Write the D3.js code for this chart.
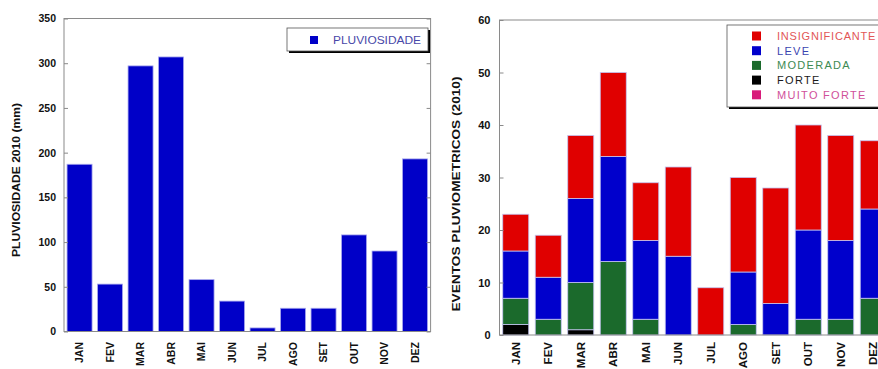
<!DOCTYPE html>
<html>
<head>
<meta charset="utf-8">
<script src="https://cdn.jsdelivr.net/npm/d3@7"></script>
<style>
  html, body { margin: 0; padding: 0; background: #fff; }
  svg { display: block; font-family: "Liberation Sans", Arial, sans-serif; }
</style>
</head>
<body>
<svg id="chart" width="878" height="369"></svg>
<script>
// Months of 2010
const months = ["JAN", "FEV", "MAR", "ABR", "MAI", "JUN", "JUL", "AGO", "SET", "OUT", "NOV", "DEZ"];

// Monthly rainfall total (mm)
const pluviosidade = [187, 53, 297, 307, 58, 34, 4, 26, 26, 108, 90, 193];

// Number of rain events per intensity class
const forte          = [2, 0, 1, 0, 0, 0, 0, 0, 0, 0, 0, 0];
const moderada       = [5, 3, 9, 14, 3, 0, 0, 2, 0, 3, 3, 7];
const leve           = [9, 8, 16, 20, 15, 15, 0, 10, 6, 17, 15, 17];
const insignificante = [7, 8, 12, 16, 11, 17, 9, 18, 22, 20, 20, 13];
const muitoForte     = [0, 0, 0, 0, 0, 0, 0, 0, 0, 0, 0, 0];

// Axis ticks
const rainTicks = [0, 50, 100, 150, 200, 250, 300, 350];
const eventTicks = [0, 10, 20, 30, 40, 50, 60];

const svg = d3.select("#chart");
const frameColor = "#8a8a8a";

function frame(g, x0, x1, y0, y1) {
  g.append("rect")
    .attr("x", x0).attr("y", y1)
    .attr("width", x1 - x0).attr("height", y0 - y1)
    .attr("fill", "none").attr("stroke", frameColor).attr("stroke-width", 1);
}

function styleAxis(sel, fontSize) {
  sel.select(".domain").remove();
  sel.selectAll(".tick line").attr("stroke", frameColor);
  sel.selectAll(".tick text")
    .attr("fill", "#111")
    .style("font-size", fontSize + "px")
    .style("font-weight", "bold");
}

function monthLabels(g, x, yTop, fontSize) {
  g.selectAll("text.month")
    .data(months)
    .join("text")
    .attr("class", "month")
    .attr("transform", d => `translate(${x(d) + x.bandwidth() / 2},${yTop}) rotate(-90)`)
    .attr("text-anchor", "end")
    .attr("dy", "0.35em")
    .attr("fill", "#111")
    .style("font-size", fontSize + "px")
    .style("font-weight", "bold")
    .text(d => d);
}

// ---------- Left: monthly rainfall ----------
{
  const g = svg.append("g");
  const x = d3.scaleBand().domain(months).range([64, 430.6]).paddingInner(0.18).paddingOuter(0.1);
  const y = d3.scaleLinear().domain([0, 350]).range([331.5, 18.5]);

  g.selectAll("rect.bar")
    .data(pluviosidade)
    .join("rect")
    .attr("class", "bar")
    .attr("x", (d, i) => x(months[i]))
    .attr("y", d => y(d))
    .attr("width", x.bandwidth())
    .attr("height", d => y(0) - y(d))
    .attr("fill", "#0000c8")
    .attr("stroke", "#a8a8ee")
    .attr("stroke-width", 0.8);

  frame(g, 64, 430.6, y(0), y(350));

  g.append("g").attr("transform", "translate(64,0)")
    .call(d3.axisLeft(y).tickValues(rainTicks).tickSizeInner(-4).tickSizeOuter(0).tickPadding(8))
    .call(s => styleAxis(s, 10.5));
  g.append("g").attr("transform", "translate(430.6,0)")
    .call(d3.axisRight(y).tickValues(rainTicks).tickSizeInner(-4).tickSizeOuter(0).tickFormat(""))
    .call(s => styleAxis(s, 10.5));

  monthLabels(g, x, 342, 10.5);

  g.append("text")
    .attr("transform", `translate(16,180) rotate(-90)`)
    .attr("text-anchor", "middle")
    .attr("dy", "0.35em")
    .attr("fill", "#111")
    .style("font-size", "10.5px")
    .style("font-weight", "bold")
    .attr("textLength", 154)
    .attr("lengthAdjust", "spacingAndGlyphs")
    .text("PLUVIOSIDADE 2010 (mm)");

  // Legend
  const lg = g.append("g");
  lg.append("rect").attr("x", 289).attr("y", 30).attr("width", 141).attr("height", 23).attr("fill", "#000");
  lg.append("rect").attr("x", 287).attr("y", 28).attr("width", 141).attr("height", 23)
    .attr("fill", "#fff").attr("stroke", "#555").attr("stroke-width", 0.8);
  lg.append("rect").attr("x", 310).attr("y", 36).attr("width", 8).attr("height", 8).attr("fill", "#0000c8");
  lg.append("text").attr("x", 333).attr("y", 40).attr("dy", "0.35em")
    .attr("fill", "#4848a8").style("font-size", "10px")
    .attr("textLength", 88).attr("lengthAdjust", "spacingAndGlyphs")
    .text("PLUVIOSIDADE");
}

// ---------- Right: rain events by intensity ----------
{
  const g = svg.append("g");
  const x = d3.scaleBand().domain(months).range([499.5, 889.5]).paddingInner(0.2).paddingOuter(0.1);
  const y = d3.scaleLinear().domain([0, 60]).range([335, 20]);

  const series = [
    { key: "FORTE", values: forte, color: "#000000", text: "#1a1a1a" },
    { key: "MODERADA", values: moderada, color: "#1b6a2c", text: "#3d8a52" },
    { key: "LEVE", values: leve, color: "#0000cc", text: "#3a44b0" },
    { key: "INSIGNIFICANTE", values: insignificante, color: "#e00000", text: "#e25656" },
    { key: "MUITO FORTE", values: muitoForte, color: "#d81b7a", text: "#d0509a" }
  ];
  const table = months.map((m, i) => {
    const row = { month: m };
    series.forEach(s => { row[s.key] = s.values[i]; });
    return row;
  });
  const stacked = d3.stack().keys(series.map(s => s.key))(table);

  g.selectAll("g.layer")
    .data(stacked)
    .join("g")
    .attr("class", "layer")
    .attr("fill", (d, i) => series[i].color)
    .selectAll("rect")
    .data(d => d.filter(p => p[1] > p[0]))
    .join("rect")
    .attr("x", p => x(p.data.month))
    .attr("y", p => y(p[1]))
    .attr("width", x.bandwidth())
    .attr("height", p => y(p[0]) - y(p[1]))
    .attr("stroke", "#c4c4f0")
    .attr("stroke-width", 0.8);

  frame(g, 499.5, 889.5, y(0), y(60));

  g.append("g").attr("transform", "translate(499.5,0)")
    .call(d3.axisLeft(y).tickValues(eventTicks).tickSizeInner(-4).tickSizeOuter(0).tickPadding(9))
    .call(s => styleAxis(s, 11));

  monthLabels(g, x, 342, 11.5);

  g.append("text")
    .attr("transform", `translate(456,194) rotate(-90)`)
    .attr("text-anchor", "middle")
    .attr("dy", "0.35em")
    .attr("fill", "#111")
    .style("font-size", "10.5px")
    .style("font-weight", "bold")
    .attr("textLength", 235)
    .attr("lengthAdjust", "spacingAndGlyphs")
    .text("EVENTOS PLUVIOMETRICOS (2010)");

  // Legend (listed top to bottom)
  const order = ["INSIGNIFICANTE", "LEVE", "MODERADA", "FORTE", "MUITO FORTE"];
  const lg = g.append("g");
  lg.append("rect").attr("x", 729).attr("y", 27).attr("width", 170).attr("height", 82).attr("fill", "#000");
  lg.append("rect").attr("x", 727).attr("y", 25).attr("width", 170).attr("height", 82)
    .attr("fill", "#fff").attr("stroke", "#555").attr("stroke-width", 0.8);
  const rows = lg.selectAll("g.item")
    .data(order.map(k => series.find(s => s.key === k)))
    .join("g")
    .attr("class", "item")
    .attr("transform", (d, i) => `translate(0,${36 + i * 14.7})`);
  rows.append("rect").attr("x", 752).attr("y", -4.5).attr("width", 9).attr("height", 9).attr("fill", d => d.color);
  rows.append("text").attr("x", 777).attr("dy", "0.35em")
    .attr("fill", d => d.text)
    .style("font-size", "11px")
    .style("letter-spacing", d => d.key === "INSIGNIFICANTE" ? "0.8px" : "1.3px")
    .text(d => d.key);
}
</script>
</body>
</html>
